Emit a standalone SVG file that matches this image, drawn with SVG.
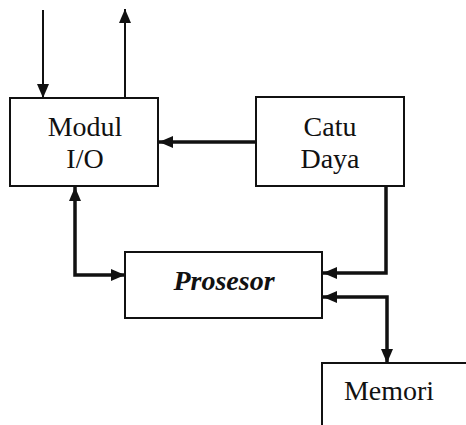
<svg xmlns="http://www.w3.org/2000/svg" width="466" height="425" viewBox="0 0 466 425">
<defs>
<marker id="ah" viewBox="0 0 14 12" refX="14" refY="6" markerWidth="14" markerHeight="12" markerUnits="userSpaceOnUse" orient="auto-start-reverse">
<path d="M0,0 L14,6 L0,12 Z" fill="#111"/>
</marker>
</defs>
<style>
.box{fill:#fff;stroke:#111;stroke-width:2}
.t{font-family:"Liberation Serif","Times New Roman",serif;font-size:28px;fill:#111;text-anchor:middle}
.c{fill:none;stroke:#111;stroke-width:3.5}
.thin{fill:none;stroke:#111;stroke-width:2}
</style>
<rect width="466" height="425" fill="#fff"/>
<g id="connectors">
<line class="thin" x1="43" y1="10" x2="43" y2="98" marker-end="url(#ah)"/>
<line class="thin" x1="125" y1="98" x2="125" y2="9" marker-end="url(#ah)"/>
<line class="c" x1="256" y1="142" x2="159" y2="142" marker-end="url(#ah)"/>
<polyline class="c" points="386,186 386,273 323,273" marker-end="url(#ah)"/>
<polyline class="c" points="75,187 75,275 125,275" marker-start="url(#ah)" marker-end="url(#ah)"/>
<polyline class="c" points="323,297 387,297 387,363" marker-start="url(#ah)" marker-end="url(#ah)"/>
</g>
<g id="modul-io">
<rect class="box" x="10" y="98" width="148" height="88"/>
<text class="t" x="85" y="136">Modul</text>
<text class="t" x="85" y="168">I/O</text>
</g>
<g id="catu-daya">
<rect class="box" x="256" y="97" width="148" height="89"/>
<text class="t" x="330" y="136">Catu</text>
<text class="t" x="330" y="168">Daya</text>
</g>
<g id="prosesor">
<rect class="box" x="125" y="252" width="197" height="66"/>
<text class="t" x="224" y="290" font-weight="bold" font-style="italic">Prosesor</text>
</g>
<g id="memori">
<rect class="box" x="322" y="363" width="150" height="80"/>
<text class="t" x="389" y="400">Memori</text>
</g>
</svg>
